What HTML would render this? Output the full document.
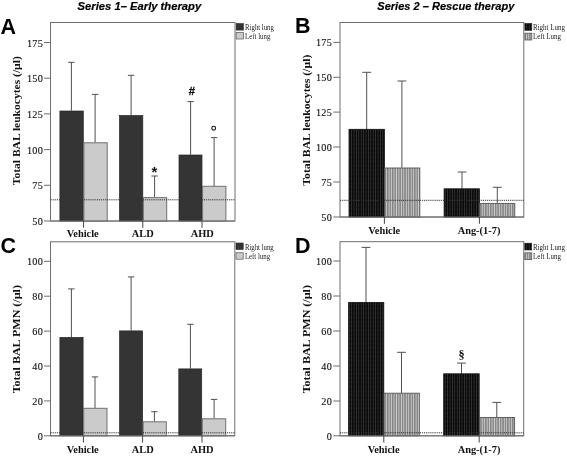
<!DOCTYPE html>
<html><head><meta charset="utf-8"><title>Figure</title>
<style>
html,body{margin:0;padding:0;background:#fff;}
body{width:567px;height:462px;overflow:hidden;}
svg{display:block;}
.tk{font-family:"Liberation Serif",serif;font-size:10.2px;letter-spacing:0.25px;fill:#111;stroke:#111;stroke-width:0.12px;}
.xl{font-family:"Liberation Serif",serif;font-size:10.4px;font-weight:bold;fill:#111;}
.yl{font-family:"Liberation Serif",serif;font-weight:bold;fill:#111;}
.lg{font-family:"Liberation Serif",serif;font-size:8.4px;fill:#222;}
.pn{font-family:"Liberation Sans",sans-serif;font-size:21.5px;font-weight:bold;fill:#000;}
.tt{font-family:"Liberation Sans",sans-serif;font-size:11.8px;font-weight:bold;font-style:italic;fill:#000;stroke:#000;stroke-width:0.2px;}
.sy{font-family:"Liberation Sans",sans-serif;font-weight:bold;fill:#111;}
</style></head><body>
<svg width="567" height="462" viewBox="0 0 567 462">
<defs>
<pattern id="pd" width="2.4" height="1.3" patternUnits="userSpaceOnUse"><rect width="2.4" height="1.3" fill="#0a0a0a"/><rect x="0.8" y="0.3" width="0.8" height="0.6" fill="#686868"/></pattern>
<pattern id="pl" width="2.45" height="4" patternUnits="userSpaceOnUse"><rect width="2.45" height="4" fill="#d0d0d0"/><rect x="0" y="0" width="1.55" height="4" fill="#858585"/></pattern>
</defs>
<rect width="567" height="462" fill="#fff"/>

<g id="panelA">
<rect x="50.5" y="22.5" width="184.5" height="198.5" fill="#fff" stroke="#6e6e6e" stroke-width="1"/>
<line x1="44" y1="42.5" x2="50.5" y2="42.5" stroke="#6e6e6e" stroke-width="1"/>
<text class="tk" x="43" y="46.5" text-anchor="end">175</text>
<line x1="44" y1="78.2" x2="50.5" y2="78.2" stroke="#6e6e6e" stroke-width="1"/>
<text class="tk" x="43" y="82.2" text-anchor="end">150</text>
<line x1="44" y1="113.9" x2="50.5" y2="113.9" stroke="#6e6e6e" stroke-width="1"/>
<text class="tk" x="43" y="117.9" text-anchor="end">125</text>
<line x1="44" y1="149.6" x2="50.5" y2="149.6" stroke="#6e6e6e" stroke-width="1"/>
<text class="tk" x="43" y="153.6" text-anchor="end">100</text>
<line x1="44" y1="185.3" x2="50.5" y2="185.3" stroke="#6e6e6e" stroke-width="1"/>
<text class="tk" x="43" y="189.3" text-anchor="end">75</text>
<line x1="44" y1="221" x2="50.5" y2="221" stroke="#6e6e6e" stroke-width="1"/>
<text class="tk" x="43" y="225" text-anchor="end">50</text>
<path d="M71.4 110.7V62.3M68.2 62.3H74.6" stroke="#505050" stroke-width="1" fill="none"/>
<path d="M95.1 142.5V94.4M91.9 94.4H98.3" stroke="#505050" stroke-width="1" fill="none"/>
<path d="M131.1 115.2V75.3M127.9 75.3H134.3" stroke="#505050" stroke-width="1" fill="none"/>
<path d="M154.6 197.3V176M151.4 176H157.8" stroke="#505050" stroke-width="1" fill="none"/>
<path d="M190.6 154.7V101.6M187.4 101.6H193.8" stroke="#505050" stroke-width="1" fill="none"/>
<path d="M214.1 186V137.6M210.9 137.6H217.3" stroke="#505050" stroke-width="1" fill="none"/>
<rect x="59.9" y="111" width="23.4" height="110" fill="#343434" stroke="#252525" stroke-width="0.7"/>
<rect x="83.9" y="142.8" width="23.3" height="78.2" fill="#cbcbcb" stroke="#707070" stroke-width="1"/>
<rect x="119.5" y="115.5" width="23.3" height="105.5" fill="#343434" stroke="#252525" stroke-width="0.7"/>
<rect x="143.4" y="197.6" width="23.3" height="23.4" fill="#cbcbcb" stroke="#707070" stroke-width="1"/>
<rect x="179" y="155" width="23" height="66" fill="#343434" stroke="#252525" stroke-width="0.7"/>
<rect x="202.6" y="186.3" width="23.3" height="34.7" fill="#cbcbcb" stroke="#707070" stroke-width="1"/>
<line x1="50.5" y1="199.8" x2="235" y2="199.8" stroke="#333" stroke-width="1" stroke-dasharray="1.2 0.9"/>
<line x1="50.5" y1="221" x2="235" y2="221" stroke="#6e6e6e" stroke-width="1"/>
<line x1="83.6" y1="221" x2="83.6" y2="227.8" stroke="#444" stroke-width="1"/>
<text class="xl" x="82.7" y="236.8" text-anchor="middle">Vehicle</text>
<line x1="142.8" y1="221" x2="142.8" y2="227.8" stroke="#444" stroke-width="1"/>
<text class="xl" x="142.8" y="236.8" text-anchor="middle">ALD</text>
<line x1="202" y1="221" x2="202" y2="227.8" stroke="#444" stroke-width="1"/>
<text class="xl" x="202.2" y="236.8" text-anchor="middle">AHD</text>
<text class="yl" font-size="10.6" transform="translate(20.2 185.2) rotate(-90)" textLength="129" lengthAdjust="spacingAndGlyphs">Total BAL leukocytes (/µl)</text>
<rect x="236.2" y="23.6" width="7.2" height="6.5" fill="#343434" stroke="#222" stroke-width="0.6"/>
<rect x="236.2" y="32.5" width="7.2" height="6.5" fill="#cbcbcb" stroke="#666" stroke-width="0.8"/>
<text class="lg" x="245.1" y="29.7" textLength="28.8" lengthAdjust="spacingAndGlyphs">Right lung</text>
<text class="lg" x="245.1" y="38.6" textLength="25.2" lengthAdjust="spacingAndGlyphs">Left lung</text>
<text class="pn" x="0.6" y="33.7">A</text>
</g>
<g id="panelC">
<rect x="50.5" y="241.8" width="184.3" height="194" fill="#fff" stroke="#6e6e6e" stroke-width="1"/>
<line x1="44" y1="261.3" x2="50.5" y2="261.3" stroke="#6e6e6e" stroke-width="1"/>
<text class="tk" x="43" y="265.3" text-anchor="end">100</text>
<line x1="44" y1="296.2" x2="50.5" y2="296.2" stroke="#6e6e6e" stroke-width="1"/>
<text class="tk" x="43" y="300.2" text-anchor="end">80</text>
<line x1="44" y1="331.1" x2="50.5" y2="331.1" stroke="#6e6e6e" stroke-width="1"/>
<text class="tk" x="43" y="335.1" text-anchor="end">60</text>
<line x1="44" y1="366" x2="50.5" y2="366" stroke="#6e6e6e" stroke-width="1"/>
<text class="tk" x="43" y="370" text-anchor="end">40</text>
<line x1="44" y1="400.9" x2="50.5" y2="400.9" stroke="#6e6e6e" stroke-width="1"/>
<text class="tk" x="43" y="404.9" text-anchor="end">20</text>
<line x1="44" y1="435.8" x2="50.5" y2="435.8" stroke="#6e6e6e" stroke-width="1"/>
<text class="tk" x="43" y="439.8" text-anchor="end">0</text>
<path d="M71.4 337.1V288.9M68.2 288.9H74.6" stroke="#505050" stroke-width="1" fill="none"/>
<path d="M95 408V376.9M91.8 376.9H98.2" stroke="#505050" stroke-width="1" fill="none"/>
<path d="M131.1 330.6V276.9M127.9 276.9H134.3" stroke="#505050" stroke-width="1" fill="none"/>
<path d="M154.4 421.5V411.7M151.2 411.7H157.6" stroke="#505050" stroke-width="1" fill="none"/>
<path d="M190.4 368.6V324.3M187.2 324.3H193.6" stroke="#505050" stroke-width="1" fill="none"/>
<path d="M214.1 418.5V399.4M210.9 399.4H217.3" stroke="#505050" stroke-width="1" fill="none"/>
<rect x="59.9" y="337.4" width="23.2" height="98.4" fill="#343434" stroke="#252525" stroke-width="0.7"/>
<rect x="83.7" y="408.3" width="23.3" height="27.5" fill="#cbcbcb" stroke="#707070" stroke-width="1"/>
<rect x="119.6" y="330.9" width="23" height="104.9" fill="#343434" stroke="#252525" stroke-width="0.7"/>
<rect x="143.2" y="421.8" width="23.1" height="14" fill="#cbcbcb" stroke="#707070" stroke-width="1"/>
<rect x="178.8" y="368.9" width="22.9" height="66.9" fill="#343434" stroke="#252525" stroke-width="0.7"/>
<rect x="202.3" y="418.8" width="23.4" height="17" fill="#cbcbcb" stroke="#707070" stroke-width="1"/>
<line x1="50.5" y1="432.8" x2="234.8" y2="432.8" stroke="#333" stroke-width="1" stroke-dasharray="1.2 0.9"/>
<line x1="50.5" y1="435.8" x2="234.8" y2="435.8" stroke="#6e6e6e" stroke-width="1"/>
<line x1="83.4" y1="435.8" x2="83.4" y2="442.6" stroke="#444" stroke-width="1"/>
<text class="xl" x="82.7" y="452.7" text-anchor="middle">Vehicle</text>
<line x1="142.6" y1="435.8" x2="142.6" y2="442.6" stroke="#444" stroke-width="1"/>
<text class="xl" x="142.8" y="452.7" text-anchor="middle">ALD</text>
<line x1="202" y1="435.8" x2="202" y2="442.6" stroke="#444" stroke-width="1"/>
<text class="xl" x="202" y="452.7" text-anchor="middle">AHD</text>
<text class="yl" font-size="10.6" transform="translate(19.6 393.35) rotate(-90)" textLength="108.3" lengthAdjust="spacingAndGlyphs">Total BAL PMN (/µl)</text>
<rect x="236" y="243" width="7.2" height="6.5" fill="#343434" stroke="#222" stroke-width="0.6"/>
<rect x="236" y="252.7" width="7.2" height="6.5" fill="#cbcbcb" stroke="#666" stroke-width="0.8"/>
<text class="lg" x="244.9" y="249.6" textLength="28.8" lengthAdjust="spacingAndGlyphs">Right lung</text>
<text class="lg" x="244.9" y="258.6" textLength="25.2" lengthAdjust="spacingAndGlyphs">Left lung</text>
<text class="pn" x="0.6" y="253.1">C</text>
</g>
<g id="panelB">
<rect x="340" y="22.5" width="183.8" height="194.5" fill="#fff" stroke="#6e6e6e" stroke-width="1"/>
<line x1="333.3" y1="42.4" x2="340" y2="42.4" stroke="#6e6e6e" stroke-width="1"/>
<text class="tk" x="332" y="46.4" text-anchor="end">175</text>
<line x1="333.3" y1="77.3" x2="340" y2="77.3" stroke="#6e6e6e" stroke-width="1"/>
<text class="tk" x="332" y="81.3" text-anchor="end">150</text>
<line x1="333.3" y1="112.1" x2="340" y2="112.1" stroke="#6e6e6e" stroke-width="1"/>
<text class="tk" x="332" y="116.1" text-anchor="end">125</text>
<line x1="333.3" y1="147" x2="340" y2="147" stroke="#6e6e6e" stroke-width="1"/>
<text class="tk" x="332" y="151" text-anchor="end">100</text>
<line x1="333.3" y1="182" x2="340" y2="182" stroke="#6e6e6e" stroke-width="1"/>
<text class="tk" x="332" y="186" text-anchor="end">75</text>
<line x1="333.3" y1="217" x2="340" y2="217" stroke="#6e6e6e" stroke-width="1"/>
<text class="tk" x="332" y="221" text-anchor="end">50</text>
<path d="M366.7 129.3V72.3M362.3 72.3H371.1" stroke="#505050" stroke-width="1" fill="none"/>
<path d="M401.9 167.7V81M397.5 81H406.3" stroke="#505050" stroke-width="1" fill="none"/>
<path d="M462 188.8V172M457.6 172H466.4" stroke="#505050" stroke-width="1" fill="none"/>
<path d="M497.3 203.1V187.3M492.9 187.3H501.7" stroke="#505050" stroke-width="1" fill="none"/>
<rect x="349" y="129.3" width="35.4" height="87.7" fill="url(#pd)" stroke="#111" stroke-width="0.8"/>
<rect x="384.7" y="168" width="35.1" height="49" fill="url(#pl)" stroke="#555" stroke-width="0.9"/>
<rect x="444.1" y="188.8" width="35.3" height="28.2" fill="url(#pd)" stroke="#111" stroke-width="0.8"/>
<rect x="479.7" y="203.4" width="35.1" height="13.6" fill="url(#pl)" stroke="#555" stroke-width="0.9"/>
<line x1="340" y1="200.3" x2="523.8" y2="200.3" stroke="#333" stroke-width="1" stroke-dasharray="1.2 0.9"/>
<line x1="340" y1="217" x2="523.8" y2="217" stroke="#6e6e6e" stroke-width="1"/>
<line x1="384.4" y1="217" x2="384.4" y2="223.8" stroke="#444" stroke-width="1"/>
<text class="xl" x="384.2" y="233.9" text-anchor="middle">Vehicle</text>
<line x1="479.4" y1="217" x2="479.4" y2="223.8" stroke="#444" stroke-width="1"/>
<text class="xl" x="479" y="233.9" text-anchor="middle">Ang-(1-7)</text>
<text class="yl" font-size="10.6" transform="translate(309.6 185.7) rotate(-90)" textLength="131" lengthAdjust="spacingAndGlyphs">Total BAL leukocytes (/µl)</text>
<rect x="524.9" y="23.5" width="6.9" height="6.8" fill="url(#pd)" stroke="#111" stroke-width="0.6"/>
<rect x="524.9" y="33.2" width="6.9" height="6.8" fill="url(#pl)" stroke="#555" stroke-width="0.8"/>
<text class="lg" x="533" y="29.8" textLength="32" lengthAdjust="spacingAndGlyphs">Right Lung</text>
<text class="lg" x="533" y="39.4" textLength="28" lengthAdjust="spacingAndGlyphs">Left Lung</text>
<text class="pn" x="295" y="32.6">B</text>
</g>
<g id="panelD">
<rect x="340" y="241.7" width="183.7" height="194.1" fill="#fff" stroke="#6e6e6e" stroke-width="1"/>
<line x1="333.3" y1="261" x2="340" y2="261" stroke="#6e6e6e" stroke-width="1"/>
<text class="tk" x="332" y="265" text-anchor="end">100</text>
<line x1="333.3" y1="296" x2="340" y2="296" stroke="#6e6e6e" stroke-width="1"/>
<text class="tk" x="332" y="300" text-anchor="end">80</text>
<line x1="333.3" y1="331" x2="340" y2="331" stroke="#6e6e6e" stroke-width="1"/>
<text class="tk" x="332" y="335" text-anchor="end">60</text>
<line x1="333.3" y1="366" x2="340" y2="366" stroke="#6e6e6e" stroke-width="1"/>
<text class="tk" x="332" y="370" text-anchor="end">40</text>
<line x1="333.3" y1="401" x2="340" y2="401" stroke="#6e6e6e" stroke-width="1"/>
<text class="tk" x="332" y="405" text-anchor="end">20</text>
<line x1="333.3" y1="435.8" x2="340" y2="435.8" stroke="#6e6e6e" stroke-width="1"/>
<text class="tk" x="332" y="439.8" text-anchor="end">0</text>
<path d="M366 302.4V247.4M361.6 247.4H370.4" stroke="#505050" stroke-width="1" fill="none"/>
<path d="M401.5 392.9V352.3M397.1 352.3H405.9" stroke="#505050" stroke-width="1" fill="none"/>
<path d="M461.5 373.8V363.1M457.1 363.1H465.9" stroke="#505050" stroke-width="1" fill="none"/>
<path d="M496.8 417.2V402.4M492.4 402.4H501.2" stroke="#505050" stroke-width="1" fill="none"/>
<rect x="348.6" y="302.4" width="35.2" height="133.4" fill="url(#pd)" stroke="#111" stroke-width="0.8"/>
<rect x="384.1" y="393.2" width="35.2" height="42.6" fill="url(#pl)" stroke="#555" stroke-width="0.9"/>
<rect x="443.7" y="373.8" width="35.5" height="62" fill="url(#pd)" stroke="#111" stroke-width="0.8"/>
<rect x="479.5" y="417.5" width="35.1" height="18.3" fill="url(#pl)" stroke="#555" stroke-width="0.9"/>
<line x1="340" y1="432.8" x2="523.7" y2="432.8" stroke="#333" stroke-width="1" stroke-dasharray="1.2 0.9"/>
<line x1="340" y1="435.8" x2="523.7" y2="435.8" stroke="#6e6e6e" stroke-width="1"/>
<line x1="383.8" y1="435.8" x2="383.8" y2="442.6" stroke="#444" stroke-width="1"/>
<text class="xl" x="383.6" y="452.7" text-anchor="middle">Vehicle</text>
<line x1="479.2" y1="435.8" x2="479.2" y2="442.6" stroke="#444" stroke-width="1"/>
<text class="xl" x="479" y="452.7" text-anchor="middle">Ang-(1-7)</text>
<text class="yl" font-size="10.6" transform="translate(309.6 393.35) rotate(-90)" textLength="108.3" lengthAdjust="spacingAndGlyphs">Total BAL PMN (/µl)</text>
<rect x="524.8" y="243.2" width="6.9" height="6.8" fill="url(#pd)" stroke="#111" stroke-width="0.6"/>
<rect x="524.8" y="252.8" width="6.9" height="6.8" fill="url(#pl)" stroke="#555" stroke-width="0.8"/>
<text class="lg" x="532.9" y="249.6" textLength="32" lengthAdjust="spacingAndGlyphs">Right Lung</text>
<text class="lg" x="532.9" y="259" textLength="28" lengthAdjust="spacingAndGlyphs">Left Lung</text>
<text class="pn" x="295" y="253.2">D</text>
</g>
<text class="tt" x="77.6" y="10.1" textLength="123.6" lengthAdjust="spacingAndGlyphs">Series 1– Early therapy</text>
<text class="tt" x="377.3" y="10.1" textLength="137" lengthAdjust="spacingAndGlyphs">Series 2 – Rescue therapy</text>
<text class="sy" x="154.4" y="176.6" font-size="15" text-anchor="middle">*</text>
<text class="sy" x="191.9" y="94.7" font-size="11.2" text-anchor="middle" stroke="#111" stroke-width="0.3">#</text>
<circle cx="213.7" cy="128.2" r="1.9" fill="none" stroke="#111" stroke-width="1.1"/>
<text x="461.6" y="359.2" font-size="12.3" text-anchor="middle" font-family="'Liberation Serif',serif" font-weight="bold" fill="#111">§</text>
</svg></body></html>
